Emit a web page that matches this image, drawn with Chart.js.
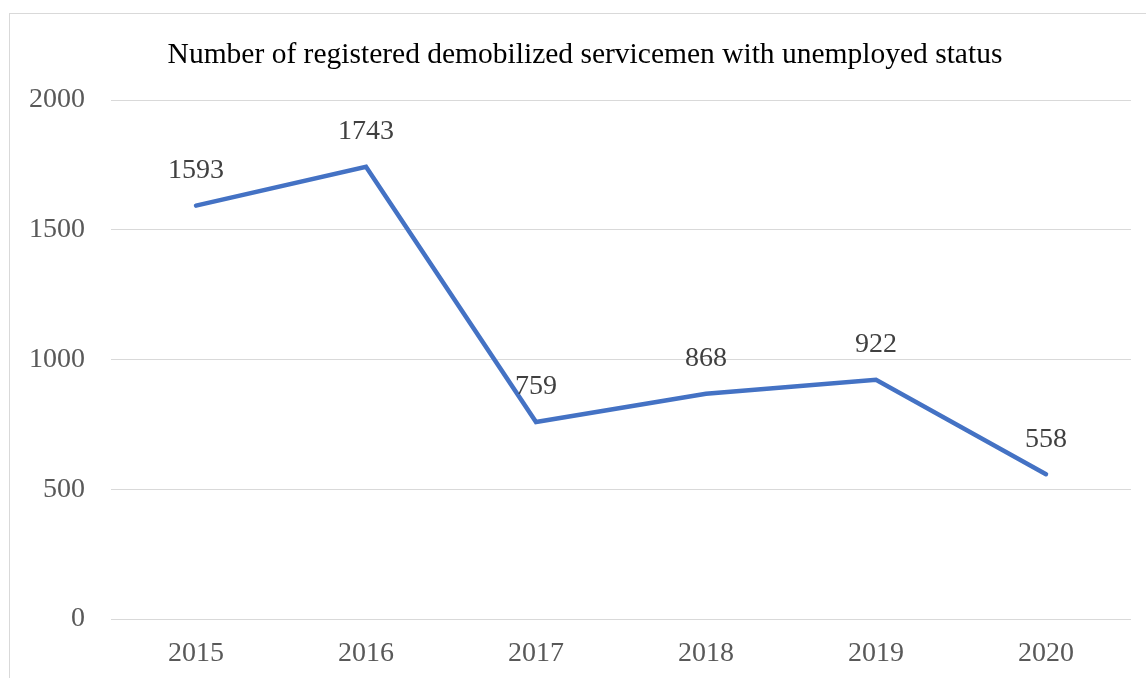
<!DOCTYPE html>
<html>
<head>
<meta charset="utf-8">
<script src="https://cdn.jsdelivr.net/npm/chart.js@4/dist/chart.umd.min.js"></script>
<style>
  html, body { margin: 0; padding: 0; background: #fff; overflow: hidden; }
  .frame { position: absolute; left: 9px; top: 13px; width: 2000px; height: 2000px; border: 1px solid #d9d9d9; }
  .wrap { position: absolute; left: 0; top: 0; width: 1146px; height: 678px; }
</style>
</head>
<body>
<div class="frame"></div>
<div class="wrap"><canvas id="chart"></canvas></div>
<script>
// data
const years = ["2015", "2016", "2017", "2018", "2019", "2020"];
const unemployed = [1593, 1743, 759, 868, 922, 558];
const yTicks = [0, 500, 1000, 1500, 2000];
const titleText = "Number of registered demobilized servicemen with unemployed status";

const serif = "'Liberation Serif', 'Times New Roman', serif";

// title + value labels above each point
const chartText = {
  id: "chartText",
  afterDatasetsDraw(chart) {
    const ctx = chart.ctx;
    const meta = chart.getDatasetMeta(0);
    ctx.save();
    ctx.textAlign = "center";
    ctx.textBaseline = "middle";

    ctx.font = "29.5px " + serif;
    ctx.fillStyle = "#000";
    ctx.fillText(titleText, 585, 55);

    ctx.font = "28px " + serif;
    ctx.fillStyle = "#404040";
    meta.data.forEach((pt, i) => {
      ctx.fillText(String(unemployed[i]), pt.x, pt.y - 35);
    });
    ctx.restore();
  },
};

const ctx = document.getElementById("chart").getContext("2d");
const chart = new Chart(ctx, {
  type: "line",
  data: {
    labels: years,
    datasets: [
      {
        label: "Unemployed",
        data: unemployed,
        borderColor: "#4472C4",
        borderWidth: 4.5,
        pointRadius: 0,
        tension: 0,
        borderCapStyle: "round",
      },
    ],
  },
  options: {
    responsive: true,
    maintainAspectRatio: false,
    animation: false,
    layout: { padding: { left: 0, right: 15, top: 100, bottom: 0 } },
    plugins: {
      legend: { display: false },
      tooltip: { enabled: false },
      title: { display: false },
    },
    scales: {
      x: {
        offset: true,
        grid: { display: false, drawTicks: false },
        border: { display: false },
        ticks: { color: "#595959", font: { family: serif, size: 28 }, padding: 18 },
        afterFit(scale) { scale.height = 59; },
      },
      y: {
        min: 0,
        max: 2000,
        afterBuildTicks(scale) { scale.ticks = yTicks.map((v) => ({ value: v })); },
        grid: { color: "#d9d9d9", lineWidth: 1, drawTicks: false },
        border: { display: false },
        ticks: {
          color: "#595959",
          font: { family: serif, size: 28 },
          padding: 26,
          callback: (v) => String(v),
        },
        afterFit(scale) { scale.width = 111; },
      },
    },
  },
  plugins: [chartText],
});
</script>
</body>
</html>
